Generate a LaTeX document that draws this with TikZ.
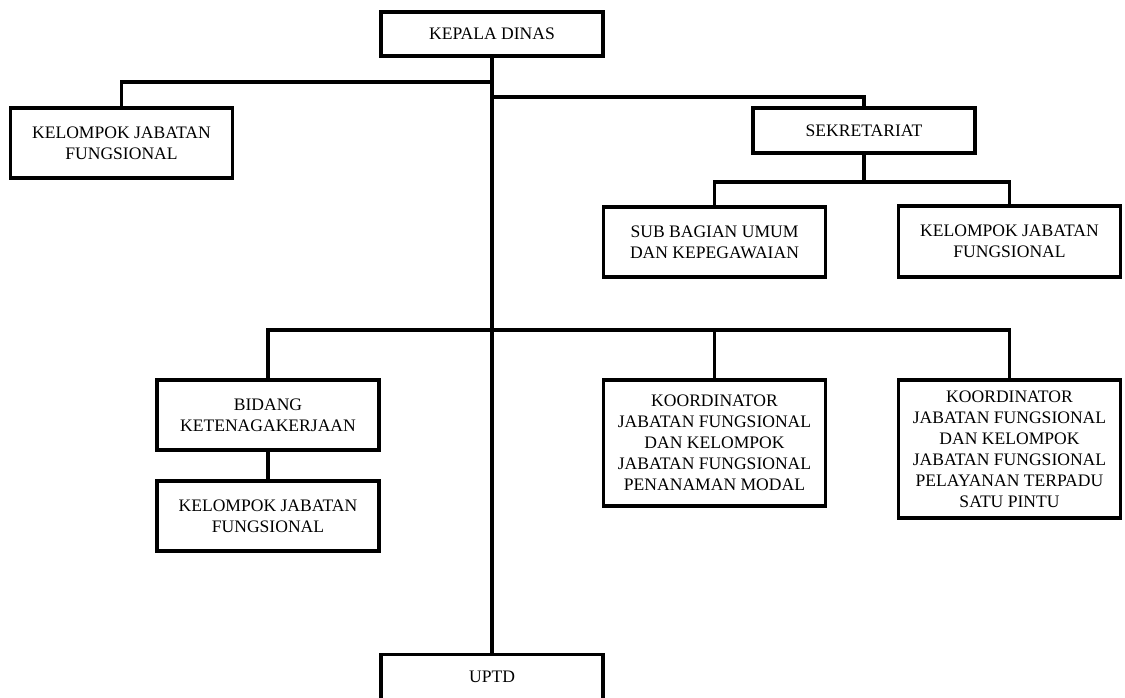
\documentclass[tikz,border=0pt]{standalone}
\usepackage{fontspec}
\setmainfont{Liberation Serif}
\usepackage{tikz}
\usetikzlibrary{positioning,calc}

\begin{document}
\begin{tikzpicture}[x=0.02cm,y=-0.02cm,
    unit/.style={draw,line width=1.9pt,minimum width=4.44cm,inner sep=0pt,
      align=center,font=\fontsize{10}{12}\selectfont},
    link/.style={line width=1.9pt}]
  \useasboundingbox (0,0) rectangle (1125,697);

  % boxes
  \node [unit,minimum height=0.88cm] (kepala) at (492,34) {KEPALA DINAS};
  \node [unit,minimum height=1.4cm] (kjfa) at (121.5,143) {KELOMPOK JABATAN\\FUNGSIONAL};
  \node [unit,minimum height=0.9cm] (sekre) at (864,130.5) {SEKRETARIAT};
  \node [unit,minimum height=1.4cm] (subbag) at (714.5,242) {SUB BAGIAN UMUM\\DAN KEPEGAWAIAN};
  \node [unit,minimum height=1.42cm] (kjfb) at (1009.5,241.5) {KELOMPOK JABATAN\\FUNGSIONAL};
  \node [unit,minimum height=1.4cm] (bidang) at (268,415) {BIDANG\\KETENAGAKERJAAN};
  \node [unit,minimum height=1.4cm] (kjfc) at (268,516) {KELOMPOK JABATAN\\FUNGSIONAL};
  \node [unit,minimum height=2.52cm] (koora) at (714.5,443) {KOORDINATOR\\JABATAN FUNGSIONAL\\DAN KELOMPOK\\JABATAN FUNGSIONAL\\PENANAMAN MODAL};
  \node [unit,minimum height=2.76cm] (koorb) at (1009.5,449) {KOORDINATOR\\JABATAN FUNGSIONAL\\DAN KELOMPOK\\JABATAN FUNGSIONAL\\PELAYANAN TERPADU\\SATU PINTU};
  \node [unit,minimum height=0.9cm] (uptd) at (492,677) {UPTD};

  % junctions
  \coordinate (ja) at (492,82);
  \coordinate (jb) at (492,97);
  \coordinate (jc) at (864,182);
  \coordinate (jd) at (492,330);

  % lines
  \draw [link] (kepala.south) -- (uptd.north);
  \draw [link] (kjfa.north) |- (ja);
  \draw [link] (sekre.north) |- (jb);
  \draw [link] (sekre.south) -- (jc);
  \draw [link] (subbag.north) |- (jc) -| (kjfb.north);
  \draw [link] (bidang.north) |- (jd) -| (koorb.north);
  \draw [link] (koora.north) -- (koora.north |- jd);
  \draw [link] (bidang.south) -- (kjfc.north);
\end{tikzpicture}
\end{document}
